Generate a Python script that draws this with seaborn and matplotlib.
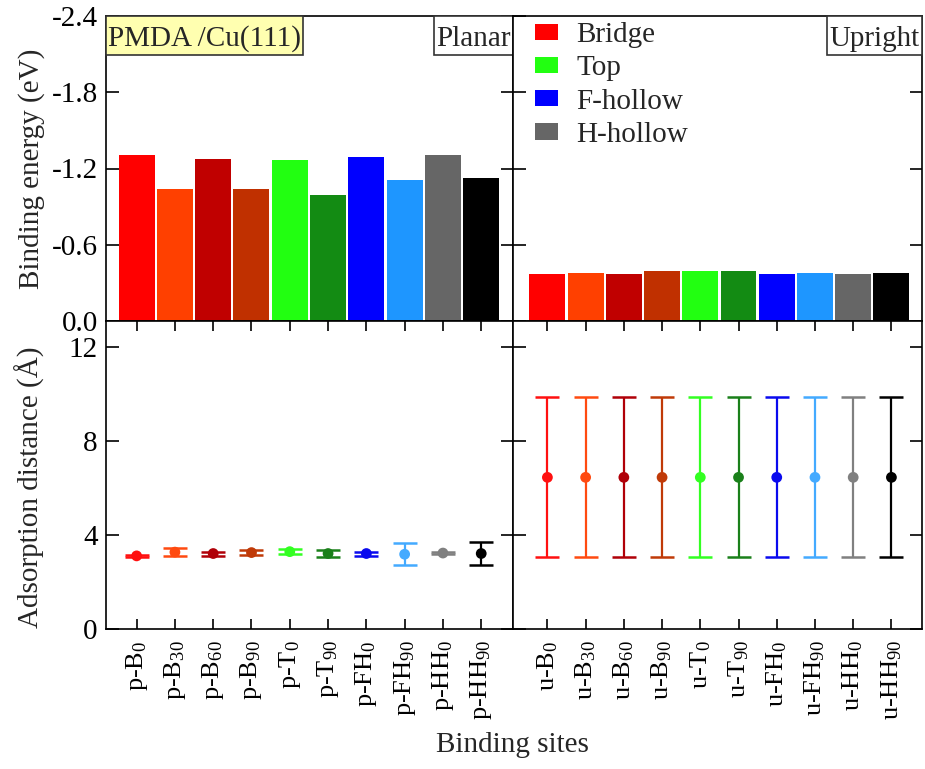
import matplotlib
matplotlib.use('Agg')
import matplotlib.pyplot as plt
import seaborn as sns
import numpy as np
from matplotlib.patches import Patch, Rectangle

# ---------------- data ----------------
planar_labels = ['p-B$_{0}$', 'p-B$_{30}$', 'p-B$_{60}$', 'p-B$_{90}$', 'p-T$_{0}$',
                 'p-T$_{90}$', 'p-FH$_{0}$', 'p-FH$_{90}$', 'p-HH$_{0}$', 'p-HH$_{90}$']
upright_labels = ['u-B$_{0}$', 'u-B$_{30}$', 'u-B$_{60}$', 'u-B$_{90}$', 'u-T$_{0}$',
                  'u-T$_{90}$', 'u-FH$_{0}$', 'u-FH$_{90}$', 'u-HH$_{0}$', 'u-HH$_{90}$']

planar_energy = [-1.305, -1.038, -1.274, -1.041, -1.269, -0.994, -1.287, -1.106, -1.305, -1.127]
upright_energy = [-0.367, -0.375, -0.370, -0.393, -0.396, -0.391, -0.370, -0.380, -0.367, -0.380]

planar_dist = [3.11, 3.27, 3.21, 3.25, 3.29, 3.21, 3.21, 3.18, 3.23, 3.21]
planar_err = [0.03, 0.18, 0.085, 0.11, 0.10, 0.13, 0.085, 0.46, 0.06, 0.47]
upright_dist = [6.45, 6.45, 6.45, 6.45, 6.45, 6.45, 6.45, 6.45, 6.45, 6.45]
upright_err = [3.40, 3.40, 3.40, 3.40, 3.40, 3.40, 3.40, 3.40, 3.40, 3.40]

legend_labels = ['Bridge', 'Top', 'F-hollow', 'H-hollow']

# ---------------- style ----------------
bar_colors = ['#FF0000', '#FF4000', '#C00000', '#C03000', '#22FF11',
              '#138B13', '#0000FF', '#1E96FF', '#666666', '#000000']
err_colors = ['#FF1010', '#FF4A10', '#B00008', '#C03A08', '#33FF22',
              '#1A801A', '#0A0AEE', '#44AAFF', '#808080', '#000000']
legend_colors = ['#FF0000', '#22FF11', '#0000FF', '#666666']

sns.set_theme(style='ticks')
plt.rcParams['font.family'] = ['Liberation Serif', 'DejaVu Serif']
plt.rcParams['mathtext.fontset'] = 'custom'
plt.rcParams['mathtext.rm'] = 'Liberation Serif'
plt.rcParams['mathtext.it'] = 'Liberation Serif:italic'
plt.rcParams['mathtext.bf'] = 'Liberation Serif:bold'
plt.rcParams['axes.edgecolor'] = 'black'
plt.rcParams['axes.linewidth'] = 1.2

FS = 21
FSX = 19
W, H = 925, 769
fig = plt.figure(figsize=(W / 100, H / 100), dpi=100)

def fx(px):
    return px / W

def fy(py):
    return 1 - py / H

xl, xm, xr = 106, 513, 922
yt, ym, yb = 16, 321, 629

ax_tl = fig.add_axes([fx(xl), fy(ym), fx(xm) - fx(xl), fy(yt) - fy(ym)])
ax_tr = fig.add_axes([fx(xm), fy(ym), fx(xr) - fx(xm), fy(yt) - fy(ym)])
ax_bl = fig.add_axes([fx(xl), fy(yb), fx(xm) - fx(xl), fy(ym) - fy(yb)])
ax_br = fig.add_axes([fx(xm), fy(yb), fx(xr) - fx(xm), fy(ym) - fy(yb)])

xlim_left = (-0.80, 9.83)
xlim_right = (-0.90, 9.80)

# top panels: bars
for ax, labels, vals, xlim in [(ax_tl, planar_labels, planar_energy, xlim_left),
                               (ax_tr, upright_labels, upright_energy, xlim_right)]:
    sns.barplot(x=labels, y=vals, hue=labels, palette=bar_colors, legend=False,
                width=0.94, saturation=1, ax=ax, linewidth=0)
    ax.set_ylim(0, -2.4)
    ax.set_xlim(*xlim)
    ax.set_yticks([0.0, -0.6, -1.2, -1.8, -2.4])
    ax.set_yticklabels(['0.0', '-0.6', '-1.2', '-1.8', '-2.4'])
    ax.tick_params(axis='x', bottom=False, top=False, labelbottom=False)
    ax.tick_params(axis='y', left=True, right=True, direction='in', length=9,
                   width=1.2, labelsize=FS, pad=6, colors='black')
    ax.set_xlabel('')

ax_tr.tick_params(axis='y', labelleft=False)

# bottom panels: points with error bars
for ax, labels, d, e, xlim in [(ax_bl, planar_labels, planar_dist, planar_err, xlim_left),
                               (ax_br, upright_labels, upright_dist, upright_err, xlim_right)]:
    pos = np.arange(len(labels))
    sns.scatterplot(x=pos, y=d, hue=labels, palette=err_colors, legend=False,
                    s=60, linewidth=0, ax=ax, zorder=4)
    for i in range(len(labels)):
        ax.errorbar(pos[i], d[i], yerr=e[i], fmt='none', ecolor=err_colors[i],
                    elinewidth=1.6, capsize=8.5, capthick=1.8, zorder=3)
    ax.set_ylim(0, 13.1)
    ax.set_xlim(*xlim)
    ax.set_yticks([0, 4, 8, 12])
    ax.set_xticks(pos)
    ax.set_xticklabels(labels, rotation=90)
    ax.tick_params(axis='x', bottom=True, top=True, direction='in', length=7,
                   width=1.2, labelsize=FSX, pad=8, colors='black')
    ax.tick_params(axis='y', left=True, right=True, direction='in', length=9,
                   width=1.2, labelsize=FS, pad=6, colors='black')

ax_br.tick_params(axis='y', labelleft=False)

# labels
ax_tl.set_ylabel('Binding energy (eV)', fontsize=FS)
ax_tl.yaxis.set_label_coords(-0.15, 0.5)
ax_bl.set_ylabel('Adsorption distance (Å)', fontsize=FS)
ax_bl.yaxis.set_label_coords(-0.15, 0.46)
fig.text(fx(512), fy(745), 'Binding sites', ha='center', va='center', fontsize=FS)

# text boxes (rectangle in axes fraction + centred text)
def box(ax, text, x0, x1, y0, y1, fc):
    ax.add_patch(Rectangle((x0, y0), x1 - x0, y1 - y0, transform=ax.transAxes,
                           facecolor=fc, edgecolor='#333333', linewidth=1.2,
                           zorder=6, clip_on=False))
    ax.text((x0 + x1) / 2, (y0 + y1) / 2, text, transform=ax.transAxes,
            ha='center', va='center_baseline', fontsize=FS, zorder=7)

box(ax_tl, 'PMDA /Cu(111)', 0.0, 197 / 407, 1 - 39 / 305, 1.0, '#FFFFB0')
box(ax_tl, 'Planar', (434 - 106) / 407, 1.0, 1 - 39 / 305, 1.0, 'white')
box(ax_tr, 'Upright', (827 - 513) / 409, 1.0, 1 - 39 / 305, 1.0, 'white')

# legend
handles = [Patch(facecolor=c, edgecolor='none') for c in legend_colors]
ax_tr.legend(handles, legend_labels, loc='upper left', frameon=False, fontsize=FS,
             bbox_to_anchor=(22 / 409, 1 - 6 / 305),
             handlelength=0.79, handleheight=0.48, handletextpad=0.62,
             labelspacing=0.25, borderaxespad=0, borderpad=0)

fig.savefig('out.png', dpi=100)
